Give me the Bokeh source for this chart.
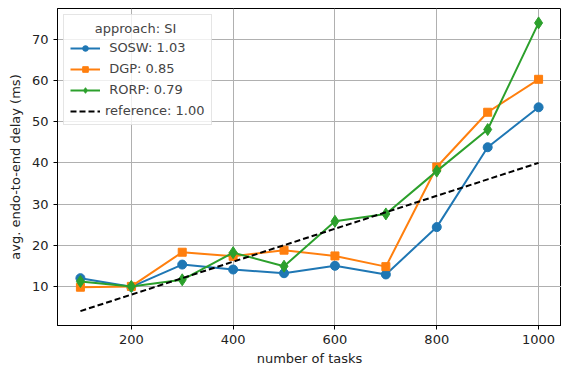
from bokeh.plotting import figure
from bokeh.models import Range1d, Legend, LegendItem, FixedTicker
from bokeh.embed import file_html
from bokeh.resources import INLINE

tasks = [100, 200, 300, 400, 500, 600, 700, 800, 900, 1000]
sosw = [12.0, 9.9, 15.3, 14.1, 13.2, 15.0, 12.9, 24.4, 43.8, 53.5]
dgp = [9.8, 10.0, 18.3, 17.3, 18.8, 17.4, 14.8, 39.0, 52.3, 60.3]
rorp = [11.2, 10.0, 11.6, 18.2, 14.9, 25.8, 27.6, 38.0, 48.1, 74.0]
reference = [4, 8, 12, 16, 20, 24, 28, 32, 36, 40]
x_ticks = [200, 400, 600, 800, 1000]
y_ticks = [10, 20, 30, 40, 50, 60, 70]
labels = [" SOSW: 1.03", " DGP: 0.85", " RORP: 0.79", "reference: 1.00"]
legend_title = "approach: SI"

FONT = "DejaVu Sans"
p = figure(width=561, height=369, output_backend="svg", toolbar_location=None,
           x_range=Range1d(55, 1045), y_range=Range1d(0.5, 77.5),
           min_border_left=57, min_border_right=0, min_border_top=8, min_border_bottom=44)
p.outline_line_color = "black"
p.outline_line_width = 1
p.background_fill_color = "white"
p.border_fill_color = "white"

for ax in (p.xaxis[0], p.yaxis[0]):
    ax.major_label_text_font = FONT
    ax.major_label_text_font_size = "13px"
    ax.major_label_text_color = "#222222"
    ax.axis_label_text_font = FONT
    ax.axis_label_text_font_size = "13px"
    ax.axis_label_text_font_style = "normal"
    ax.axis_label_text_color = "#222222"
    ax.minor_tick_line_color = None
    ax.major_tick_out = 4
    ax.major_tick_in = 0
    ax.axis_line_color = "black"
p.xaxis.ticker = FixedTicker(ticks=x_ticks)
p.yaxis.ticker = FixedTicker(ticks=y_ticks)
p.xaxis.axis_label = "number of tasks"
p.yaxis.axis_label = "avg. endo-to-end delay (ms)"
p.xaxis.axis_label_standoff = 4
p.yaxis.axis_label_standoff = 6
p.grid.grid_line_color = "#b0b0b0"
p.grid.grid_line_width = 1

blue, orange, green = "#1f77b4", "#ff7f0e", "#2ca02c"
l1 = p.line(tasks, sosw, color=blue, line_width=2)
m1 = p.scatter(tasks, sosw, marker="circle", size=9, color=blue)
l2 = p.line(tasks, dgp, color=orange, line_width=2)
m2 = p.scatter(tasks, dgp, marker="square", size=8, color=orange)
l3 = p.line(tasks, rorp, color=green, line_width=2)
m3 = p.scatter(tasks, rorp, marker="diamond", size=12, color=green)
l4 = p.line(tasks, reference, color="black", line_width=2, line_dash="6 3")

legend = Legend(items=[
    LegendItem(label=labels[0], renderers=[l1, m1]),
    LegendItem(label=labels[1], renderers=[l2, m2]),
    LegendItem(label=labels[2], renderers=[l3, m3]),
    LegendItem(label=labels[3], renderers=[l4]),
], location="top_left", title="\u00a0" * 6 + legend_title)
legend.label_text_font = FONT
legend.label_text_font_size = "13px"
legend.title_text_font = FONT
legend.title_text_font_size = "13px"
legend.title_text_font_style = "normal"
legend.border_line_color = "#cccccc"
legend.border_line_width = 1
legend.background_fill_alpha = 0.8
legend.label_height = 14
legend.glyph_height = 14
legend.glyph_width = 30
legend.spacing = 6
legend.padding = 6
legend.margin = 6
legend.title_standoff = 4
p.add_layout(legend)

open("out.html", "w").write(file_html(p, INLINE))
